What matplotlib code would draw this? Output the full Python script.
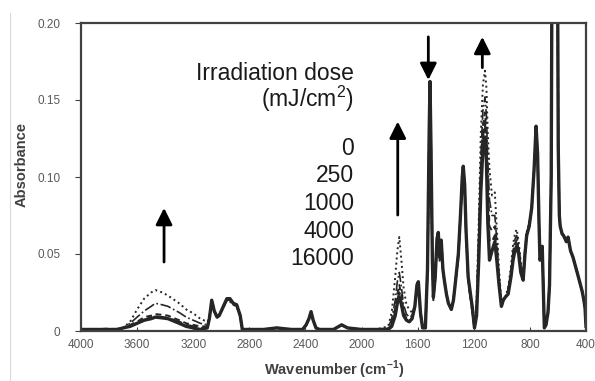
import matplotlib as mpl
mpl.use('Agg')
import matplotlib.pyplot as plt
from matplotlib.lines import Line2D

plt.rcParams['font.family'] = ['Liberation Sans', 'DejaVu Sans']
plt.rcParams['mathtext.fontset'] = 'custom'
plt.rcParams['mathtext.rm'] = 'Liberation Sans'
plt.rcParams['mathtext.bf'] = 'Liberation Sans:bold'

# Spektren (gemeinsames Wellenzahl-Raster)
wavenumber = [
    4000, 3900, 3800, 3740, 3700,
    3650, 3600, 3550, 3500, 3470, 3420, 3380,
    3300, 3250, 3200, 3150, 3100,
    3085, 3068, 3050, 3030, 3015, 2990, 2960, 2938, 2915, 2890, 2865, 2850,
    2800, 2700, 2605, 2500, 2420, 2395, 2375, 2360, 2345, 2325, 2300,
    2200, 2142, 2100, 2000, 1900,
    1810, 1785, 1760, 1745, 1731, 1718, 1700, 1680, 1660, 1640, 1620, 1605, 1595, 1580, 1565, 1545,
    1530, 1518, 1512, 1505, 1495, 1488, 1475, 1462, 1453, 1443, 1432, 1420, 1410,
    1395, 1381, 1360, 1345, 1334, 1310, 1295, 1282, 1275, 1265, 1255, 1240, 1225, 1210, 1195,
    1180, 1165, 1150, 1135, 1120, 1110, 1100, 1088, 1070, 1050, 1035, 1020, 1003,
    990, 975, 955, 935, 920, 905, 894, 880, 865, 848, 835, 823,
    805, 787, 770, 756, 745, 735, 728, 718, 712, 705, 697, 685,
    671, 660, 648, 640, 622, 605, 598, 590, 584, 570, 560, 540, 528, 510, 493, 475, 457, 440, 428, 415, 407, 400,
]

dose_0 = [
    .001, .001, .001, .001, .002,
    .003, .005, .007, .008, .009, .0085, .008,
    .005, .003, .002, .001, .002,
    .008, .020, .013, .009, .010, .015, .021, .021, .018, .017, .010, .001,
    .001, .001, .002, .001, .001, .004, .008, .0126, .007, .002, .001,
    .001, .004, .002, .001, .001,
    .001, .003, .010, .018, .022, .018, .010, .007, .006, .008, .016, .030, .032, .012, .002, .002,
    .040, .130, .162, .120, .045, .022, .035, .060, .064, .048, .059, .040, .033,
    .024, .018, .014, .020, .029, .050, .075, .100, .107, .095, .065, .035, .025, .015, .002,
    .010, .045, .090, .118, .126, .110, .070, .046, .052, .058, .045, .030, .016,
    .020, .022, .024, .035, .046, .053, .055, .050, .038, .033, .050, .062,
    .068, .080, .105, .133, .115, .070, .046, .050, .055, .030, .002, .004,
    .012, .030, .100, .300, .420, .300, .120, .075, .068, .063, .062, .058, .061, .052, .048, .042, .036, .030, .026, .020, .015, .003,
]

dose_250 = [
    .001, .001, .0015, .001, .002,
    .003, .005, .007, .009, .0095, .009, .0085,
    .006, .004, .003, .002, .002,
    .008, .020, .013, .009, .010, .015, .021, .021, .018, .017, .010, .001,
    .001, .001, .002, .001, .001, .004, .008, .012, .007, .002, .001,
    .001, .004, .002, .001, .001,
    .001, .004, .012, .020, .025, .020, .011, .007, .006, .008, .016, .029, .031, .012, .002, .002,
    .040, .128, .161, .118, .045, .022, .035, .060, .064, .048, .059, .040, .033,
    .024, .018, .014, .020, .029, .050, .075, .100, .107, .095, .065, .035, .024, .014, .002,
    .012, .050, .096, .126, .135, .120, .085, .058, .058, .062, .048, .031, .016,
    .020, .022, .025, .036, .048, .055, .057, .052, .039, .033, .050, .062,
    .068, .080, .105, .133, .115, .070, .046, .050, .055, .030, .002, .004,
    .012, .030, .100, .300, .420, .300, .120, .075, .068, .063, .062, .058, .061, .052, .048, .042, .036, .030, .026, .020, .015, .003,
]

dose_1000 = [
    .001, .001, .001, .0015, .002,
    .004, .006, .009, .010, .011, .0105, .010,
    .007, .005, .004, .003, .003,
    .008, .019, .013, .009, .010, .015, .021, .020, .018, .016, .010, .001,
    .001, .001, .002, .001, .001, .004, .008, .012, .007, .002, .001,
    .001, .004, .002, .001, .001,
    .001, .005, .015, .024, .030, .024, .013, .008, .007, .008, .016, .028, .030, .011, .002, .002,
    .039, .126, .159, .116, .044, .022, .034, .059, .063, .047, .058, .040, .033,
    .024, .018, .014, .020, .029, .049, .074, .099, .106, .094, .064, .034, .023, .013, .002,
    .014, .055, .102, .133, .142, .128, .095, .068, .065, .068, .052, .033, .016,
    .020, .022, .026, .037, .050, .057, .059, .053, .040, .034, .051, .063,
    .069, .080, .105, .132, .115, .070, .046, .050, .055, .030, .002, .004,
    .012, .030, .100, .300, .420, .300, .120, .075, .068, .063, .062, .058, .061, .052, .048, .042, .036, .030, .026, .020, .015, .003,
]

dose_4000 = [
    .001, .001, .001, .001, .002,
    .005, .009, .013, .016, .018, .017, .016,
    .012, .009, .007, .005, .004,
    .008, .019, .012, .009, .010, .014, .020, .020, .017, .016, .009, .001,
    .001, .001, .002, .001, .001, .004, .008, .011, .007, .002, .001,
    .001, .004, .002, .001, .001,
    .002, .008, .020, .032, .038, .030, .017, .011, .009, .010, .016, .027, .029, .011, .002, .002,
    .038, .123, .157, .114, .043, .021, .034, .058, .062, .046, .057, .039, .033,
    .024, .018, .014, .020, .029, .048, .073, .098, .105, .093, .063, .033, .022, .012, .002,
    .016, .060, .112, .143, .152, .140, .110, .085, .075, .075, .058, .036, .017,
    .020, .022, .027, .039, .052, .060, .062, .055, .042, .035, .052, .063,
    .069, .080, .105, .131, .115, .070, .046, .050, .055, .030, .002, .004,
    .012, .030, .100, .300, .420, .300, .120, .075, .068, .063, .062, .058, .061, .052, .048, .042, .036, .030, .026, .020, .015, .003,
]

dose_16000 = [
    .001, .001, .001, .0015, .002,
    .006, .014, .021, .025, .0266, .025, .023,
    .018, .014, .0115, .008, .006,
    .008, .018, .012, .009, .010, .014, .020, .019, .017, .016, .009, .001,
    .001, .001, .002, .001, .001, .004, .008, .011, .007, .002, .001,
    .001, .004, .002, .001, .001,
    .003, .012, .035, .052, .061, .048, .028, .017, .014, .012, .016, .026, .028, .010, .002, .002,
    .037, .120, .154, .110, .042, .020, .033, .057, .061, .045, .056, .038, .033,
    .024, .018, .014, .020, .029, .047, .072, .097, .104, .092, .062, .033, .022, .012, .002,
    .020, .070, .128, .160, .169, .158, .128, .105, .088, .090, .065, .040, .018,
    .020, .022, .028, .042, .056, .064, .066, .058, .045, .036, .053, .064,
    .070, .080, .105, .130, .115, .070, .046, .050, .055, .030, .002, .004,
    .012, .030, .100, .300, .420, .300, .120, .075, .068, .063, .062, .058, .061, .052, .048, .042, .036, .030, .026, .020, .015, .003,
]

dose_labels = ['0', '250', '1000', '4000', '16000']

# Pfeile: (x, y_start, y_ende)
arrows = [(3408, 0.0448, 0.0799), (1742, 0.0753, 0.136),
          (1524, 0.191, 0.163), (1139, 0.171, 0.191)]

fig = plt.figure(figsize=(5.95, 3.81), dpi=100)
ax = fig.add_axes([81/595, 50/381, 505/595, 308/381])

linecol = '#262626'
ax.plot(wavenumber, dose_16000, ':', color=linecol, lw=1.4)
ax.plot(wavenumber, dose_4000, '-.', color=linecol, lw=1.2)
ax.plot(wavenumber, dose_1000, '--', color=linecol, lw=1.4, dashes=(3, 2))
ax.plot(wavenumber, dose_250, '--', color=linecol, lw=1.6, dashes=(5, 2))
ax.plot(wavenumber, dose_0, '-', color=linecol, lw=2.4)

for x, y0, y1 in arrows:
    ax.annotate('', xy=(x, y1), xytext=(x, y0),
                arrowprops=dict(arrowstyle='-|>,head_length=1.0,head_width=0.5',
                                color='black', lw=2, shrinkA=0, shrinkB=0))

ax.set_xlim(4000, 400)
ax.set_ylim(0, 0.20)
ax.set_xticks(range(4000, 399, -400))
ax.set_yticks([0, 0.05, 0.10, 0.15, 0.20])
ax.set_yticklabels(['0', '0.05', '0.10', '0.15', '0.20'])
ax.tick_params(axis='x', direction='in', length=3, pad=6, labelsize=8.5,
               labelcolor='#595959', color='#404040')
ax.tick_params(axis='y', direction='out', length=4, pad=11, labelsize=8.5,
               labelcolor='#595959', color='#404040')
for s in ax.spines.values():
    s.set_color('#404040')
    s.set_linewidth(1.6)

fig.text(334/595, 1 - 370/381, r'Wavenumber (cm$^{\mathbf{-1}}$)', ha='center', va='center',
         fontsize=10.5, fontweight='bold', color='#404040')
fig.text(22/595, 1 - 164/381, 'Absorbance', ha='center', va='center', rotation=90,
         fontsize=10.5, fontweight='bold', color='#404040')

# Legende als Text
tx = 354/595
fig.text(tx, 1 - 80/381, 'Irradiation dose', ha='right', va='baseline', fontsize=16.5, color='#1a1a1a')
fig.text(tx, 1 - 107/381, r'(mJ/cm$^2$)', ha='right', va='baseline', fontsize=16.5, color='#1a1a1a')
for i, lab in enumerate(dose_labels):
    fig.text(tx, 1 - (155 + 27.5*i)/381, lab, ha='right', va='baseline', fontsize=16.5, color='#1a1a1a')

fig.add_artist(Line2D([10/595, 10/595], [0, 1 - 13/381], color='#d9d9d9', lw=0.8,
                      transform=fig.transFigure))

fig.savefig('out.png', dpi=100)
